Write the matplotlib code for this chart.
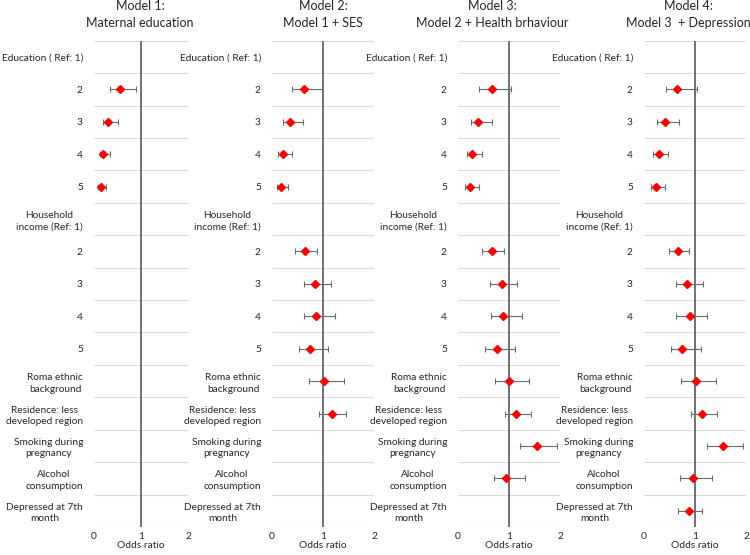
import numpy as np
import matplotlib
matplotlib.use("Agg")
import matplotlib.pyplot as plt

plt.rcParams['font.family'] = ['Lato', 'DejaVu Sans']

nan = np.nan

row_labels = ["Education ( Ref: 1)", "2", "3", "4", "5",
              "Household\nincome (Ref: 1)", "2", "3", "4", "5",
              "Roma ethnic\nbackground", "Residence: less\ndeveloped region",
              "Smoking during\npregnancy", "Alcohol\nconsumption",
              "Depressed at 7th\nmonth"]

titles = ["Model 1:\nMaternal education", "Model 2:\nModel 1 + SES",
          "Model 3:\nModel 2 + Health brhaviour", "Model 4:\nModel 3  + Depression"]

# odds ratios and 95% CI per row (nan = not in model / reference row)
m1_or = [nan, 0.56, 0.30, 0.19, 0.14, nan, nan, nan, nan, nan, nan, nan, nan, nan, nan]
m1_lo = [nan, 0.35, 0.19, 0.12, 0.09, nan, nan, nan, nan, nan, nan, nan, nan, nan, nan]
m1_hi = [nan, 0.89, 0.51, 0.33, 0.26, nan, nan, nan, nan, nan, nan, nan, nan, nan, nan]

m2_or = [nan, 0.62, 0.36, 0.22, 0.18, nan, 0.65, 0.84, 0.87, 0.75, 1.02, 1.17, nan, nan, nan]
m2_lo = [nan, 0.39, 0.22, 0.12, 0.09, nan, 0.46, 0.63, 0.63, 0.52, 0.73, 0.93, nan, nan, nan]
m2_hi = [nan, 0.99, 0.61, 0.39, 0.31, nan, 0.88, 1.15, 1.23, 1.10, 1.42, 1.45, nan, nan, nan]

m3_or = [nan, 0.66, 0.40, 0.27, 0.23, nan, 0.66, 0.86, 0.89, 0.76, 1.00, 1.14, 1.54, 0.95, nan]
m3_lo = [nan, 0.42, 0.25, 0.17, 0.13, nan, 0.48, 0.63, 0.64, 0.52, 0.73, 0.92, 1.22, 0.70, nan]
m3_hi = [nan, 1.03, 0.66, 0.48, 0.42, nan, 0.90, 1.16, 1.25, 1.12, 1.40, 1.44, 1.94, 1.31, nan]

m4_or = [nan, 0.65, 0.42, 0.29, 0.24, nan, 0.66, 0.84, 0.90, 0.75, 1.01, 1.14, 1.55, 0.97, 0.88]
m4_lo = [nan, 0.43, 0.25, 0.17, 0.14, nan, 0.49, 0.63, 0.63, 0.52, 0.73, 0.92, 1.24, 0.70, 0.67]
m4_hi = [nan, 1.03, 0.68, 0.48, 0.42, nan, 0.89, 1.16, 1.24, 1.11, 1.42, 1.43, 1.95, 1.33, 1.13]

models = [(m1_or, m1_lo, m1_hi), (m2_or, m2_lo, m2_hi),
          (m3_or, m3_lo, m3_hi), (m4_or, m4_lo, m4_hi)]

# axes boxes in pixels (left, right) on a 750x555 canvas
boxes = [(94, 188), (272, 374), (458, 560), (644, 746)]
title_x = [140, 323, 492, 688]
top_px = 40.7
bot_px = 527.0

W, H = 750.0, 555.0
fig = plt.figure(figsize=(7.5, 5.55), dpi=100)

nrow = len(row_labels)
ypos = np.arange(nrow) + 0.5

for k in range(4):
  l, r = boxes[k]
  ax = fig.add_axes([l / W, 1 - bot_px / H, (r - l) / W, (bot_px - top_px) / H])
  orv, lo, hi = [np.array(a) for a in models[k]]

  ax.hlines(np.arange(nrow + 1), 0, 2, color="#d9d9d9", lw=0.8, zorder=1)
  ax.axvline(1, color="#595959", lw=1.2, zorder=2)

  ax.errorbar(orv, ypos, xerr=[orv - lo, hi - orv], fmt="none",
              ecolor="#6b6b6b", elinewidth=0.8, capsize=2.5, capthick=0.8, zorder=3)
  ax.plot(orv, ypos, "D", color="#ff0000", ms=4.2, mec="#ff0000", zorder=4)

  ax.set_xlim(0, 2)
  ax.set_ylim(nrow, 0)
  ax.set_xticks([0, 1, 2])
  ax.set_yticks(ypos)
  ax.set_yticklabels(row_labels, fontsize=7.3, color="#262626")
  for t in ax.get_yticklabels():
    t.set_multialignment("center")
    t.set_linespacing(1.35)
  ax.tick_params(axis="y", length=0, pad=8)
  ax.tick_params(axis="x", length=0, pad=3.5, labelsize=7.4, labelcolor="#262626")
  ax.set_xlabel("Odds ratio", fontsize=7.4, color="#262626", labelpad=0)
  for s in ax.spines.values():
    s.set_visible(False)

  fig.text(title_x[k] / W, 1 - 14.5 / H, titles[k], ha="center", va="center",
           fontsize=9.0, color="#262626", linespacing=1.45)

plt.savefig("out.png", dpi=100)
plt.close()
